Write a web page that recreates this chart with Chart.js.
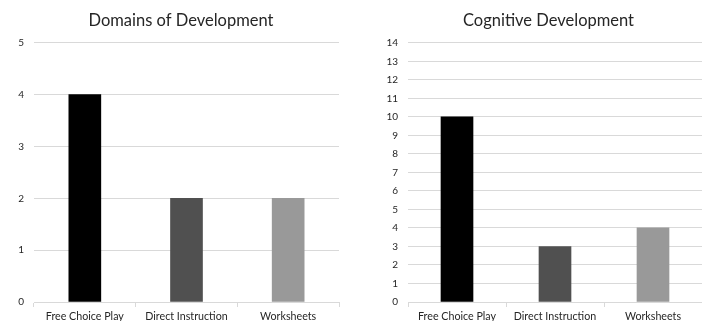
<!DOCTYPE html>
<html>
<head>
<meta charset="utf-8">
<script src="https://cdn.jsdelivr.net/npm/chart.js@4/dist/chart.umd.min.js"></script>
<style>
  html, body { margin: 0; padding: 0; background: #fff; }
  #wrap { position: relative; width: 702px; height: 321px; }
  .panel { position: absolute; top: 0; height: 321px; }
  #left { left: 0; width: 351px; }
  #right { left: 351px; width: 351px; }
</style>
</head>
<body>
<div id="wrap">
  <div class="panel" id="left"><canvas id="domains"></canvas></div>
  <div class="panel" id="right"><canvas id="cognitive"></canvas></div>
</div>
<script>
// Teaching approaches compared in both panels
const categories = ['Free Choice Play', 'Direct Instruction', 'Worksheets'];
const barColors = ['#000000', '#505050', '#999999'];

// Domains of Development counts
const domainsValues = [4, 2, 2];
const domainsTicks = [0, 1, 2, 3, 4, 5];

// Cognitive Development counts
const cognitiveValues = [10, 3, 4];
const cognitiveTicks = [0, 1, 2, 3, 4, 5, 6, 7, 8, 9, 10, 11, 12, 13, 14];

const FONT = 'Lato, "Open Sans", sans-serif';
const GRID = '#d9d9d9';

// Nudges the title block sideways by options.plugins.titleShift.px
const titleShift = {
  id: 'titleShift',
  afterLayout(chart, args, opts) {
    const t = chart.titleBlock;
    if (t && opts.px) { t.left += opts.px; t.right += opts.px; }
  }
};

function makeChart(id, title, values, ticks, gutter, padRight, shift) {
  return new Chart(document.getElementById(id), {
    type: 'bar',
    data: {
      labels: categories,
      datasets: [{
        data: values,
        backgroundColor: barColors,
        borderWidth: 0,
        barThickness: 32
      }]
    },
    plugins: [titleShift],
    options: {
      responsive: true,
      maintainAspectRatio: false,
      animation: false,
      devicePixelRatio: 1,
      layout: { padding: { left: 0, right: padRight, top: 0, bottom: 0 } },
      plugins: {
        legend: { display: false },
        tooltip: { enabled: false },
        titleShift: { px: shift },
        title: {
          display: true,
          text: title,
          color: '#262626',
          font: { family: FONT, size: 16.5, weight: 'normal' },
          padding: { top: 11, bottom: 12 }
        }
      },
      scales: {
        x: {
          offset: true,
          grid: {
            offset: true,
            drawOnChartArea: false,
            drawTicks: true,
            tickLength: 5,
            color: GRID
          },
          border: { color: GRID, width: 1 },
          ticks: {
            color: '#262626',
            font: { family: FONT, size: 10.7 },
            padding: 3,
            maxRotation: 0,
            autoSkip: false
          },
          afterFit: s => { s.height = 19; }
        },
        y: {
          min: ticks[0],
          max: ticks[ticks.length - 1],
          afterBuildTicks: s => { s.ticks = ticks.map(v => ({ value: v })); },
          grid: { color: GRID, drawTicks: false },
          border: { display: false },
          ticks: {
            color: '#262626',
            font: { family: FONT, size: 10 },
            padding: 10
          },
          afterFit: s => { s.width = gutter; }
        }
      }
    }
  });
}

makeChart('domains', 'Domains of Development', domainsValues, domainsTicks, 34, 12, 11.5);
makeChart('cognitive', 'Cognitive Development', cognitiveValues, cognitiveTicks, 57, 0, 22);
</script>
</body>
</html>
